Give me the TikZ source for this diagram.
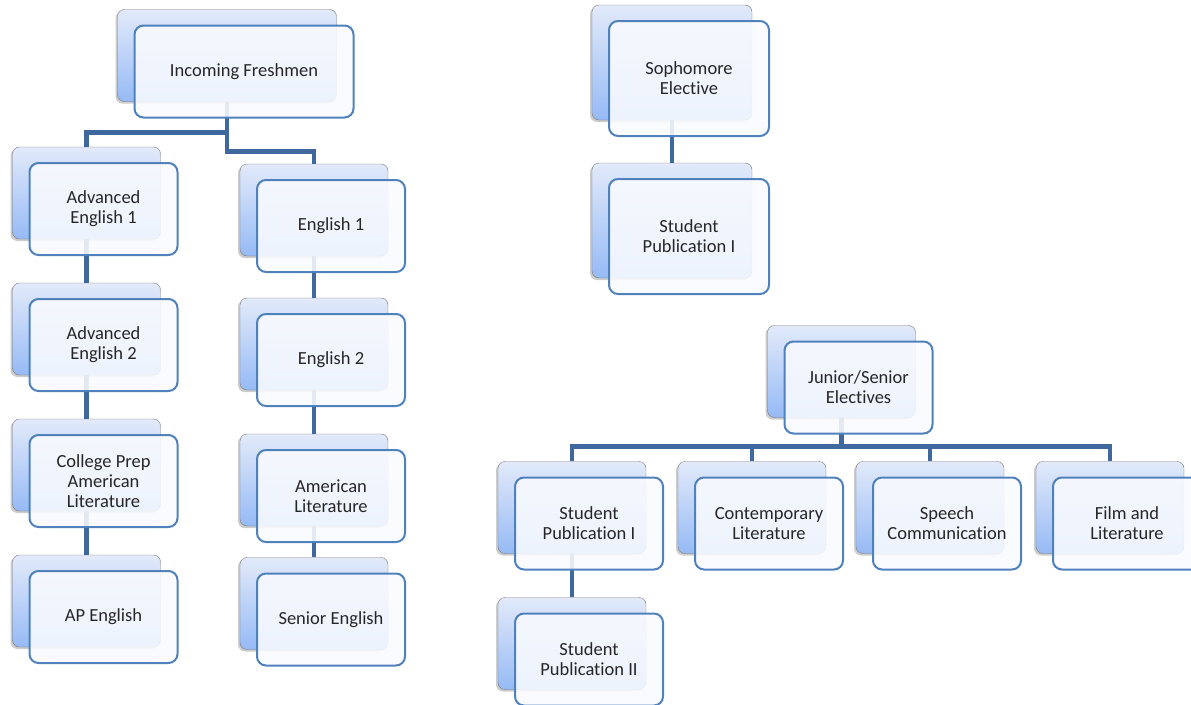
\documentclass[tikz,border=0pt]{standalone}
\usepackage{fontspec}
\setmainfont{Carlito}[Ligatures=NoCommon]
\usepackage{tikz}
\usetikzlibrary{positioning,shadows}
\definecolor{backtop}{RGB}{226,234,250}
\definecolor{backbot}{RGB}{150,186,245}
\definecolor{backedge}{RGB}{118,118,118}
\definecolor{frontfill}{RGB}{249,251,254}
\definecolor{frontedge}{RGB}{79,129,189}
\definecolor{linkblue}{RGB}{62,104,158}
\tikzset{
  basic/.style    = {rectangle, minimum width=148pt, minimum height=92pt, inner sep=0pt},
  back/.style     = {basic, draw=backedge, thin, rounded corners=7pt,
                     top color=backtop, bottom color=backbot,
                     drop shadow={shadow xshift=-2pt, shadow yshift=-2pt, opacity=0.4}},
  front/.style    = {basic, draw=frontedge, line width=2pt, rounded corners=9pt,
                     fill=frontfill, fill opacity=0.88, text opacity=1, text=black!85,
                     align=center, font=\fontsize{18.5}{20}\selectfont,
                     xshift=17pt, yshift=-16pt},
  widebox/.style  = {minimum width=219pt},
  tallbox/.style  = {minimum width=160pt, minimum height=115pt}
}

\begin{document}
\begin{tikzpicture}[
  x=1pt, y=-1pt,
  link/.style={draw=linkblue, line width=4.5pt}]

\useasboundingbox (0,0) rectangle (1191,704);

% back cards
\node[back, widebox] (fresh-b) at (227,55.5) {};
\node[back] (adv1-b)   at (86.5,193) {};
\node[back] (adv2-b)   at (86.5,329) {};
\node[back] (cprep-b)  at (86.5,465) {};
\node[back] (ap-b)     at (86.5,601) {};
\node[back] (eng1-b)   at (314,210) {};
\node[back] (eng2-b)   at (314,344) {};
\node[back] (amlit-b)  at (314,480) {};
\node[back] (senior-b) at (314,603.5) {};
\node[back, tallbox] (soph-b)  at (672,62.5) {};
\node[back, tallbox] (pubA-b)  at (672,220.5) {};
\node[back] (junior-b)  at (841.5,371.5) {};
\node[back] (pubB-b)    at (572,507.5) {};
\node[back] (contemp-b) at (752,507.5) {};
\node[back] (speech-b)  at (930,507.5) {};
\node[back] (film-b)    at (1110,507.5) {};
\node[back] (pubC-b)    at (572,643.5) {};

% connectors
\draw[link] (fresh-b.south) -- ++(0,31) -| (adv1-b.north);
\draw[link] (fresh-b.south) -- ++(0,50) -| (eng1-b.north);
\draw[link] (adv1-b.south) -- (adv2-b.north);
\draw[link] (adv2-b.south) -- (cprep-b.north);
\draw[link] (cprep-b.south) -- (ap-b.north);
\draw[link] (eng1-b.south) -- (eng2-b.north);
\draw[link] (eng2-b.south) -- (amlit-b.north);
\draw[link] (amlit-b.south) -- (senior-b.north);
\draw[link] (soph-b.south) -- (pubA-b.north);
\draw[link] (junior-b.south) -- ++(0,29) -| (pubB-b.north);
\draw[link] (junior-b.south) -- ++(0,29) -| (contemp-b.north);
\draw[link] (junior-b.south) -- ++(0,29) -| (speech-b.north);
\draw[link] (junior-b.south) -- ++(0,29) -| (film-b.north);
\draw[link] (pubB-b.south) -- (pubC-b.north);

% front cards
\node[front, widebox] (fresh) at (fresh-b) {Incoming Freshmen};
\node[front] (adv1)   at (adv1-b)   {Advanced\\English 1};
\node[front] (adv2)   at (adv2-b)   {Advanced\\English 2};
\node[front] (cprep)  at (cprep-b)  {College Prep\\American\\Literature};
\node[front] (ap)     at (ap-b)     {AP English};
\node[front] (eng1)   at (eng1-b)   {English 1};
\node[front] (eng2)   at (eng2-b)   {English 2};
\node[front] (amlit)  at (amlit-b)  {American\\Literature};
\node[front] (senior) at (senior-b) {Senior English};
\node[front, tallbox] (soph) at (soph-b) {Sophomore\\Elective};
\node[front, tallbox] (pubA) at (pubA-b) {Student\\Publication I};
\node[front] (junior)  at (junior-b)  {Junior/Senior\\Electives};
\node[front] (pubB)    at (pubB-b)    {Student\\Publication I};
\node[front] (contemp) at (contemp-b) {Contemporary\\Literature};
\node[front] (speech)  at (speech-b)  {Speech\\Communication};
\node[front] (film)    at (film-b)    {Film and\\Literature};
\node[front] (pubC)    at (pubC-b)    {Student\\Publication II};

\end{tikzpicture}
\end{document}
